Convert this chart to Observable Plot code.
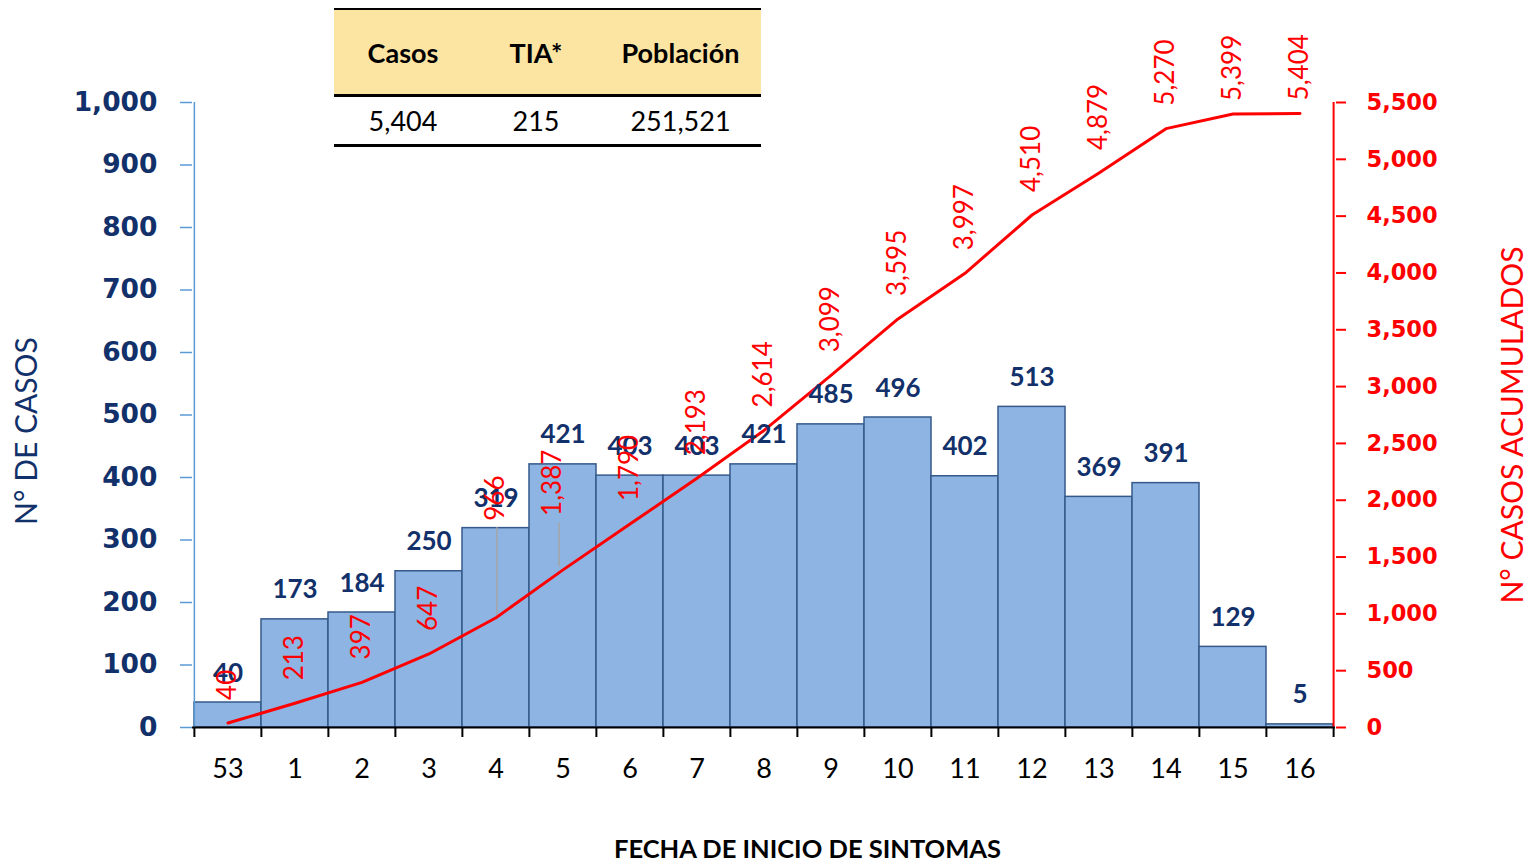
<!DOCTYPE html>
<html>
<head>
<meta charset="utf-8">
<script src="https://cdn.jsdelivr.net/npm/d3@7"></script>
<script src="https://cdn.jsdelivr.net/npm/@observablehq/plot@0.6"></script>
<style>
  html, body { margin: 0; padding: 0; background: #fff; overflow: hidden; }
  #wrap { position: relative; width: 1531px; height: 861px; }
  #tbl { position: absolute; left: 334px; top: 8px; width: 427px; border-collapse: collapse; font-family: Lato, "Open Sans", sans-serif; font-size: 27px; color: #000; }
  #tbl th { background: #fce4a2; font-weight: bold; height: 84px; border-top: 2px solid #000; border-bottom: 3px solid #000; padding: 0; text-align: center; }
  #tbl td { height: 47px; border-bottom: 3px solid #000; padding: 0; text-align: center; font-weight: normal; }
</style>
</head>
<body>
<div id="wrap"></div>
<script>
// ---- data ----
const weeks = ["53","1","2","3","4","5","6","7","8","9","10","11","12","13","14","15","16"];
const cases = [40,173,184,250,319,421,403,403,421,485,496,402,513,369,391,129,5];
const cumulative = [40,213,397,647,966,1387,1790,2193,2614,3099,3595,3997,4510,4879,5270,5399,5404];
const leftTicks = [0,100,200,300,400,500,600,700,800,900,1000];
const rightTicks = [0,500,1000,1500,2000,2500,3000,3500,4000,4500,5000,5500];
const tableHeaders = ["Casos","TIA*","Población"];
const tableValues = ["5,404","215","251,521"];
const leftTitle = "N° DE CASOS";
const rightTitle = "N° CASOS ACUMULADOS";
const xTitle = "FECHA DE INICIO DE SINTOMAS";

// ---- layout ----
const W = 1531, H = 861;
const mL = 192, mR = 196, mT = 102, mB = 134;
const bw = (W - mL - mR) / weeks.length;
const rightMax = 5500, leftMax = 1000;
const ratio = rightMax / leftMax;
const pxPerUnit = (H - mT - mB) / leftMax;
const navy = "#12306a", red = "#ff0000";

const data = weeks.map((w, i) => ({week: w, cases: cases[i], cum: cumulative[i], i}));
// manually placed cumulative labels (as in the original)
const shifted = {"4": {dx: 0, gap: 97, leader: true}, "5": {dx: -10, gap: 54, leader: true},
                 "15": {dx: 0, gap: 13}, "16": {dx: 0, gap: 13}};
const normal = data.filter(d => !shifted[d.week]);
const moved = data.filter(d => shifted[d.week]);
const leaders = moved.filter(d => shifted[d.week].leader);

const fmt = d3.format(",");

const plot = Plot.plot({
  width: W, height: H,
  marginLeft: mL, marginRight: mR, marginTop: mT, marginBottom: mB,
  style: {fontFamily: "Lato, 'Open Sans', sans-serif", background: "white", overflow: "visible"},
  x: {type: "band", domain: weeks, padding: 0, axis: null},
  y: {domain: [0, leftMax], axis: null},
  marks: [
    Plot.barY(data, {x: "week", y: "cases", fill: "#8db4e2", stroke: "#35598a", strokeWidth: 1.5}),
    // left axis line
    Plot.ruleX([weeks[0]], {x: d => d, dx: -bw/2, stroke: "#5b9bd5", strokeWidth: 1.5}),
    // right axis line
    Plot.ruleX([weeks[weeks.length-1]], {x: d => d, dx: bw/2, stroke: red, strokeWidth: 2}),
    // x axis baseline
    Plot.ruleY([0], {stroke: "#000", strokeWidth: 2}),
    // x boundary ticks
    Plot.ruleX(weeks, {x: d => d, dx: -bw/2, insetTop: H - mT - mB, insetBottom: -10, stroke: "#000", strokeWidth: 2}),
    Plot.ruleX([weeks[weeks.length-1]], {x: d => d, dx: bw/2, insetTop: H - mT - mB, insetBottom: -10, stroke: "#000", strokeWidth: 2}),
    // x tick labels
    Plot.axisX({tickSize: 0, tickPadding: 31, fontSize: 27, fill: "#000", label: null}),
    // left axis
    Plot.axisY({anchor: "left", ticks: leftTicks, tickSize: 12, tickPadding: 23, tickFormat: fmt,
      fontSize: 26.5, fontWeight: "bold", fontFamily: "'DejaVu Sans', Verdana, sans-serif",
      fill: navy, stroke: "#5b9bd5", strokeWidth: 1.5, label: null}),
    // right axis
    Plot.axisY({anchor: "right", ticks: rightTicks.map(v => v / ratio), tickSize: 10, tickPadding: 21,
      tickFormat: d => fmt(Math.round(d * ratio)),
      fontSize: 22.5, fontWeight: "bold", fontFamily: "'DejaVu Sans', Verdana, sans-serif",
      fill: red, stroke: red, strokeWidth: 2, label: null}),
    // cumulative line
    Plot.line(data, {x: "week", y: d => d.cum / ratio, stroke: red, strokeWidth: 3}),
    // bar value labels
    Plot.text(data, {x: "week", y: "cases", text: d => fmt(d.cases), dy: -21, lineAnchor: "bottom",
      fontSize: 26, fontWeight: "bold", fill: navy}),
    // cumulative labels
    Plot.text(normal, {x: "week", y: d => d.cum / ratio, text: d => fmt(d.cum), rotate: -90,
      textAnchor: "start", lineAnchor: "middle", dy: -23, fontSize: 26, fill: red}),
    ...moved.map(d => Plot.text([d], {x: "week", y: d => d.cum / ratio, text: d => fmt(d.cum), rotate: -90,
      textAnchor: "start", lineAnchor: "middle", dx: shifted[d.week].dx, dy: -shifted[d.week].gap, fontSize: 26, fill: red})),
    // leader lines for moved labels
    ...leaders.map(d => Plot.ruleX([d], {x: "week", dx: shifted[d.week].dx / 2 + 1,
      y1: d => d.cum / ratio + 3 / pxPerUnit, y2: d => d.cum / ratio + (shifted[d.week].gap - 7) / pxPerUnit,
      stroke: "#a6a6a6", strokeWidth: 1.5})),
    // axis titles
    Plot.text([leftTitle], {frameAnchor: "left", text: d => d, rotate: -90, dx: -165, dy: 16,
      textAnchor: "middle", lineAnchor: "middle", fontSize: 30, fill: navy}),
    Plot.text([rightTitle], {frameAnchor: "right", text: d => d, rotate: -90, dx: 178, dy: 10,
      textAnchor: "middle", lineAnchor: "middle", fontSize: 30, fill: red}),
    Plot.text([xTitle], {frameAnchor: "bottom", text: d => d, dx: 807 - (mL + (W - mL - mR) / 2), dy: 122,
      textAnchor: "middle", lineAnchor: "middle", fontSize: 25.5, fontWeight: "bold", fill: "#000"})
  ]
});

const wrap = document.getElementById("wrap");
wrap.appendChild(plot);

// summary table
const tbl = document.createElement("table");
tbl.id = "tbl";
const colW = [138, 128, 161];
const trh = document.createElement("tr");
tableHeaders.forEach((h, i) => { const th = document.createElement("th"); th.textContent = h; th.style.width = colW[i] + "px"; trh.appendChild(th); });
const trv = document.createElement("tr");
tableValues.forEach(v => { const td = document.createElement("td"); td.textContent = v; trv.appendChild(td); });
tbl.appendChild(trh); tbl.appendChild(trv);
wrap.appendChild(tbl);
</script>
</body>
</html>
